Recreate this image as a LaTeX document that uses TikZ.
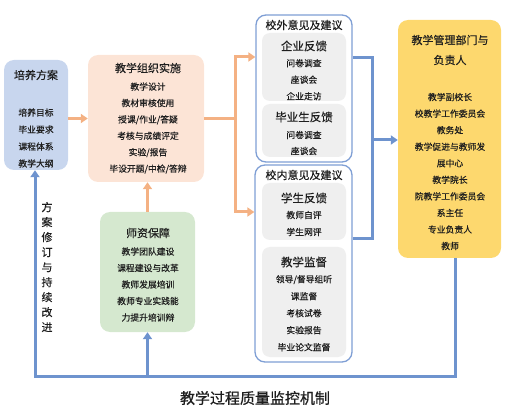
\documentclass[tikz,border=0pt]{standalone}
\usepackage{fontspec}
\setmainfont{Noto Sans CJK SC}[FakeBold=0.35]
\newfontfamily\capfont{Noto Sans CJK SC}[FakeBold=0.8]
\usetikzlibrary{arrows.meta}
\definecolor{bfill}{HTML}{C8D6EE}
\definecolor{pfill}{HTML}{FCE4D6}
\definecolor{gfill}{HTML}{D5E8CF}
\definecolor{yfill}{HTML}{FDD86E}
\definecolor{grayf}{HTML}{EFEFEF}
\definecolor{bline}{HTML}{6E93CE}
\definecolor{bedge}{HTML}{7F9FD5}
\definecolor{oline}{HTML}{F4B183}
\definecolor{txt}{HTML}{1E1E1E}
\tikzset{
  box/.style={rectangle, rounded corners=10pt, draw=none, inner sep=0pt},
  outerbox/.style={rectangle, rounded corners=10pt, draw=bedge, line width=1.3pt, fill=white, inner sep=0pt},
  graybox/.style={rectangle, rounded corners=8pt, fill=grayf, draw=none, inner sep=0pt},
  ttl/.style={font=\fontsize{11}{13}\selectfont, text=txt, inner sep=0pt},
  items/.style={font=\fontsize{8.8}{#1}\selectfont, text=txt, align=center, inner sep=0pt},
  oarr/.style={draw=oline, line width=3pt, -{Triangle[width=9pt,length=7pt]}},
  oln/.style={draw=oline, line width=3pt},
  barr/.style={draw=bline, line width=3pt, -{Triangle[width=9pt,length=7pt]}},
  bln/.style={draw=bline, line width=3pt},
}
\begin{document}
\begin{tikzpicture}[x=1pt,y=-1pt]
\useasboundingbox (0,0) rectangle (517,414);
% boxes
\node[box, fill=bfill, minimum width=64, minimum height=110] (pyfa) at (36,115) {};
\node[box, fill=pfill, minimum width=116, minimum height=127] (jx) at (146,118.5) {};
\node[box, fill=gfill, minimum width=95, minimum height=120] (sz) at (147.5,272) {};
\node[outerbox, minimum width=96, minimum height=147] (xw) at (304,88.5) {};
\node[outerbox, minimum width=97, minimum height=197] (xn) at (303.5,263.5) {};
\node[graybox, minimum width=84, minimum height=68] (qy) at (304,67) {};
\node[graybox, minimum width=84, minimum height=53] (bys) at (304,130.5) {};
\node[graybox, minimum width=84, minimum height=57] (xs) at (304,211.5) {};
\node[graybox, minimum width=84, minimum height=110] (jd) at (304,302) {};
\node[box, fill=yfill, minimum width=103, minimum height=238] (gl) at (449.5,139) {};
% texts
\node[ttl] (pyfaT) at (36,75) {培养方案};
\node[items=17] (pyfaI) at (36,138) {培养目标\\毕业要求\\课程体系\\教学大纲};
\node[ttl] (jxT) at (148,68) {教学组织实施};
\node[items=16.4] (jxI) at (148,128) {教学设计\\教材审核使用\\授课/作业/答疑\\考核与成绩评定\\实验/报告\\毕设开题/中检/答辩};
\node[ttl] (szT) at (148,233) {师资保障};
\node[items=16.5] (szI) at (148,284.5) {教学团队建设\\课程建设与改革\\教师发展培训\\教师专业实践能\\力提升培训辩};
\node[ttl] (xwT) at (304,25) {校外意见及建议};
\node[ttl, font=\fontsize{11.5}{13}\selectfont] (qyT) at (304,46) {企业反馈};
\node[items=16.5] (qyI) at (304,79.7) {问卷调查\\座谈会\\企业走访};
\node[ttl, font=\fontsize{11.5}{13}\selectfont] (bysT) at (304,117) {毕业生反馈};
\node[items=16] (bysI) at (304,143) {问卷调查\\座谈会};
\node[ttl] (xnT) at (304,175) {校内意见及建议};
\node[ttl, font=\fontsize{11.5}{13}\selectfont] (xsT) at (304,198) {学生反馈};
\node[items=17] (xsI) at (304,223.5) {教师自评\\学生网评};
\node[ttl, font=\fontsize{11.5}{13}\selectfont] (jdT) at (304,262) {教学监督};
\node[items=17] (jdI) at (304,313.2) {领导/督导组听\\课监督\\考核试卷\\实验报告\\毕业论文监督};
\node[ttl, font=\fontsize{11}{20}\selectfont, align=center] (glT) at (450,50) {教学管理部门与\\负责人};
\node[items=16.55] (glI) at (450,171.5) {教学副校长\\校教学工作委员会\\教务处\\教学促进与教师发\\展中心\\教学院长\\院教学工作委员会\\系主任\\专业负责人\\教师};
\node[ttl, font=\fontsize{11}{15}\selectfont, align=center] (loop) at (47,267) {方\\案\\修\\订\\与\\持\\续\\改\\进};
\node[ttl, font=\capfont\fontsize{15}{17}\selectfont] (cap) at (255,398) {教学过程质量监控机制};
% coordinates
\coordinate (bm) at (235,118.5);
\coordinate (bt) at (235,57);
\coordinate (bb) at (235,212);
\coordinate (rt) at (372,58);
\coordinate (rb) at (372,239);
\coordinate (rm) at (372,140);
\coordinate (bl) at (35,376);
\coordinate (br) at (455,376);
% orange connectors
\draw[oarr] (jx.west -| pyfa.east) -- (jx.west);
\draw[oln] (jx.east) -- (bm);
\draw[oarr, line join=miter] (bm) -- (bt) -- (bt -| xw.west);
\draw[oarr, line join=miter] (bm) -- (bb) -- (bb -| xn.west);
\draw[oarr] (sz.north) -- (sz.north |- jx.south);
% blue connectors
\draw[bln, line join=miter] (rt -| xw.east) -- (rt) -- (rb) -- (rb -| xn.east);
\draw[barr] (rm) -- (rm -| gl.west);
\draw[barr, line join=miter] (br |- gl.south) -- (br) -- (bl) -- (bl |- pyfa.south);
\draw[barr] (sz.south |- bl) -- (sz.south);
\end{tikzpicture}
\end{document}
